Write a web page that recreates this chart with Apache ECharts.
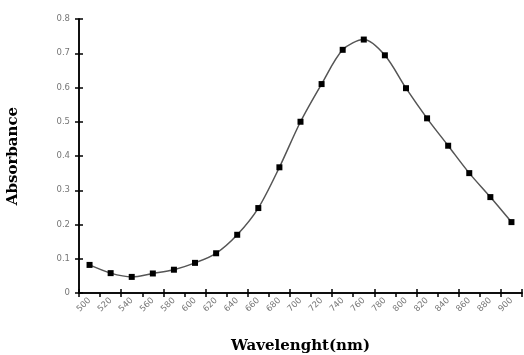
<!DOCTYPE html>
<html><head><meta charset="utf-8">
<script src="https://cdn.jsdelivr.net/npm/echarts@6/dist/echarts.min.js"></script>
<style>html,body{margin:0;padding:0;background:#fff}#c{width:524px;height:355px}</style>
</head><body><div id="c"></div>
<script>
var wavelengths = ['500','520','540','560','580','600','620','640','660','680','700','720','740','760','780','800','820','840','860','880','900'];
var absorbance = [0.082,0.058,0.047,0.057,0.068,0.088,0.116,0.170,0.248,0.367,0.500,0.610,0.710,0.740,0.694,0.598,0.510,0.430,0.350,0.280,0.207];
var yTicks = {min:0, max:0.8, interval:0.1};

var chart = echarts.init(document.getElementById('c'));
var axisLine = {show:true, lineStyle:{color:'#000', width:1.5}};
chart.setOption({
  animation:false,
  grid:{left:79, right:2, top:19, bottom:62, containLabel:false, outerBoundsMode:'none'},
  xAxis:[{
    type:'category', data:wavelengths, boundaryGap:true,
    name:'Wavelenght(nm)', nameLocation:'middle', nameGap:46,
    nameTextStyle:{fontFamily:'DejaVu Serif', fontWeight:'bold', fontSize:15, color:'#000'},
    axisLine:axisLine,
    axisTick:{show:true, alignWithLabel:false, length:4, lineStyle:{color:'#000', width:1.5}},
    axisLabel:{rotate:45, interval:0, fontSize:8.5, color:'#777', fontFamily:'DejaVu Sans', margin:6},
    splitLine:{show:false}
  },{
    type:'category', data:wavelengths, boundaryGap:true, position:'bottom',
    axisLine:axisLine,
    axisTick:{show:true, inside:true, length:4, lineStyle:{color:'#000', width:1.5}},
    axisLabel:{show:false}, splitLine:{show:false}
  }],
  yAxis:[{
    type:'value', min:yTicks.min, max:yTicks.max, interval:yTicks.interval,
    name:'Absorbance', nameLocation:'middle', nameGap:58,
    nameTextStyle:{fontFamily:'DejaVu Serif', fontWeight:'bold', fontSize:15, color:'#000'},
    axisLine:axisLine,
    axisTick:{show:true, length:4, lineStyle:{color:'#000', width:1.5}},
    axisLabel:{fontSize:8.5, color:'#777', fontFamily:'DejaVu Sans', margin:9,
      formatter:function(v){return v===0?'0':v.toFixed(1);}},
    splitLine:{show:false}
  },{
    type:'value', min:yTicks.min, max:yTicks.max, interval:yTicks.interval, position:'left',
    axisLine:axisLine,
    axisTick:{show:true, inside:true, length:4, lineStyle:{color:'#000', width:1.5}},
    axisLabel:{show:false}, splitLine:{show:false}
  }],
  series:[{
    type:'line', data:absorbance, smooth:0.3,
    symbol:'rect', symbolSize:6,
    itemStyle:{color:'#000'},
    lineStyle:{color:'#555', width:1.5}
  }]
});
</script></body></html>
